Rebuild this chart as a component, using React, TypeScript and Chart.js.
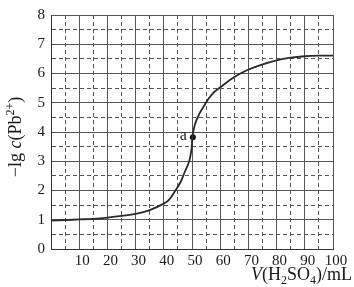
import React, { useEffect, useRef } from "react";
import { Chart, registerables } from "chart.js";

Chart.register(...registerables);

const volumes = [0, 5, 10, 15, 20, 25, 30, 35, 40, 42, 44, 46, 47.5, 49, 49.8, 50.2, 51, 52.5, 54, 57, 61, 65, 69.5, 74, 80, 85, 90, 95, 100];
const pLgPb = [0.97, 0.99, 1.01, 1.03, 1.07, 1.13, 1.2, 1.33, 1.55, 1.7, 1.98, 2.3, 2.65, 3.0, 3.4, 3.85, 4.25, 4.6, 4.85, 5.28, 5.6, 5.88, 6.11, 6.28, 6.45, 6.54, 6.59, 6.61, 6.61];
const pointAX = [50.3];
const pointAY = [3.82];
const pointALabel = ["a"];
const xTitle = [
  { t: "V", italic: true },
  { t: "(H" },
  { t: "2", sub: true },
  { t: "SO" },
  { t: "4", sub: true },
  { t: ")/mL" },
];
const yTitle = [
  { t: "\u2212lg " },
  { t: "c", italic: true },
  { t: "(Pb" },
  { t: "2+", sup: true },
  { t: ")" },
];

const FAMILY = '"Liberation Serif", "DejaVu Serif", serif';
const TEXT = "#1a1a1a";

type Piece = { t: string; italic?: boolean; sub?: boolean; sup?: boolean };

function pieceFont(p: Piece, size: number) {
  const s = p.sub || p.sup ? Math.round(size * 0.68) : size;
  return `${p.italic ? "italic " : ""}${s}px ${FAMILY}`;
}

function measure(ctx: CanvasRenderingContext2D, pieces: Piece[], size: number) {
  let w = 0;
  for (const p of pieces) {
    ctx.font = pieceFont(p, size);
    w += ctx.measureText(p.t).width;
  }
  return w;
}

function drawPieces(ctx: CanvasRenderingContext2D, pieces: Piece[], size: number, x0: number, y0: number) {
  let x = x0;
  ctx.textBaseline = "alphabetic";
  ctx.textAlign = "left";
  for (const p of pieces) {
    ctx.font = pieceFont(p, size);
    const dy = p.sub ? size * 0.22 : p.sup ? -size * 0.38 : 0;
    ctx.fillText(p.t, x, y0 + dy);
    x += ctx.measureText(p.t).width;
  }
}

const titlesPlugin = {
  id: "titles",
  afterDatasetsDraw(chart: any) {
    const ctx: CanvasRenderingContext2D = chart.ctx;
    const xs = chart.scales.x;
    const ys = chart.scales.y;
    ctx.save();
    ctx.fillStyle = TEXT;
    // point label
    ctx.font = `16px ${FAMILY}`;
    ctx.textAlign = "right";
    ctx.textBaseline = "middle";
    ctx.fillText(pointALabel[0], xs.getPixelForValue(pointAX[0]) - 6, ys.getPixelForValue(pointAY[0]) - 1);
    // x title
    const size = 18;
    const wx = measure(ctx, xTitle, size);
    drawPieces(ctx, xTitle, size, 352 - wx, 280);
    // y title
    const wy = measure(ctx, yTitle, size);
    ctx.translate(21, 137);
    ctx.rotate(-Math.PI / 2);
    drawPieces(ctx, yTitle, size, -wy / 2, 0);
    ctx.restore();
  },
};

export default function App() {
  const ref = useRef<HTMLCanvasElement>(null);
  useEffect(() => {
    document.body.style.margin = "0";
    const canvas = ref.current!;
    const curve = volumes.map((v, i) => ({ x: v, y: pLgPb[i] }));
    const pts = pointAX.map((v, i) => ({ x: v, y: pointAY[i] }));
    const dashFn = (step: number) => (c: any) =>
      c.tick && Math.abs(c.tick.value / step - Math.round(c.tick.value / step)) > 1e-6 ? [4, 3] : [];
    const chart = new Chart(canvas, {
      type: "line",
      data: {
        datasets: [
          {
            data: curve,
            borderColor: "#2a2a2a",
            borderWidth: 1.8,
            pointRadius: 0,
            tension: 0.4,
            fill: false,
          },
          {
            data: pts,
            showLine: false,
            pointRadius: 3,
            pointBackgroundColor: "#111",
            pointBorderColor: "#111",
            pointBorderWidth: 0,
          },
        ],
      } as any,
      options: {
        animation: false,
        responsive: false,
        maintainAspectRatio: false,
        layout: { padding: { top: 8, right: 21, left: 0, bottom: 0 } },
        plugins: { legend: { display: false }, tooltip: { enabled: false } },
        scales: {
          x: {
            type: "linear",
            min: 0,
            max: 100,
            afterFit: (s: any) => {
              s.height = 38;
            },
            ticks: {
              stepSize: 5,
              autoSkip: false,
              maxRotation: 0,
              padding: 3,
              labelOffset: 3,
              color: TEXT,
              font: { family: FAMILY, size: 15 },
              callback: (v: any) => (v % 10 === 0 && v !== 0 ? String(v) : ""),
            },
            grid: { color: "#555", lineWidth: 1, drawTicks: false },
            border: { display: true, color: "#333", width: 1, dash: dashFn(10) },
          },
          y: {
            type: "linear",
            min: 0,
            max: 8,
            afterFit: (s: any) => {
              s.width = 51;
            },
            ticks: {
              stepSize: 0.5,
              autoSkip: false,
              padding: 6,
              color: TEXT,
              font: { family: FAMILY, size: 15 },
              callback: (v: any) => (Number.isInteger(v) ? String(v) : ""),
            },
            grid: { color: "#555", lineWidth: 1, drawTicks: false },
            border: { display: true, color: "#333", width: 1, dash: dashFn(1) },
          },
        },
      } as any,
      plugins: [titlesPlugin],
    });
    return () => chart.destroy();
  }, []);
  return <canvas ref={ref} width={354} height={287} style={{ display: "block" }} />;
}
